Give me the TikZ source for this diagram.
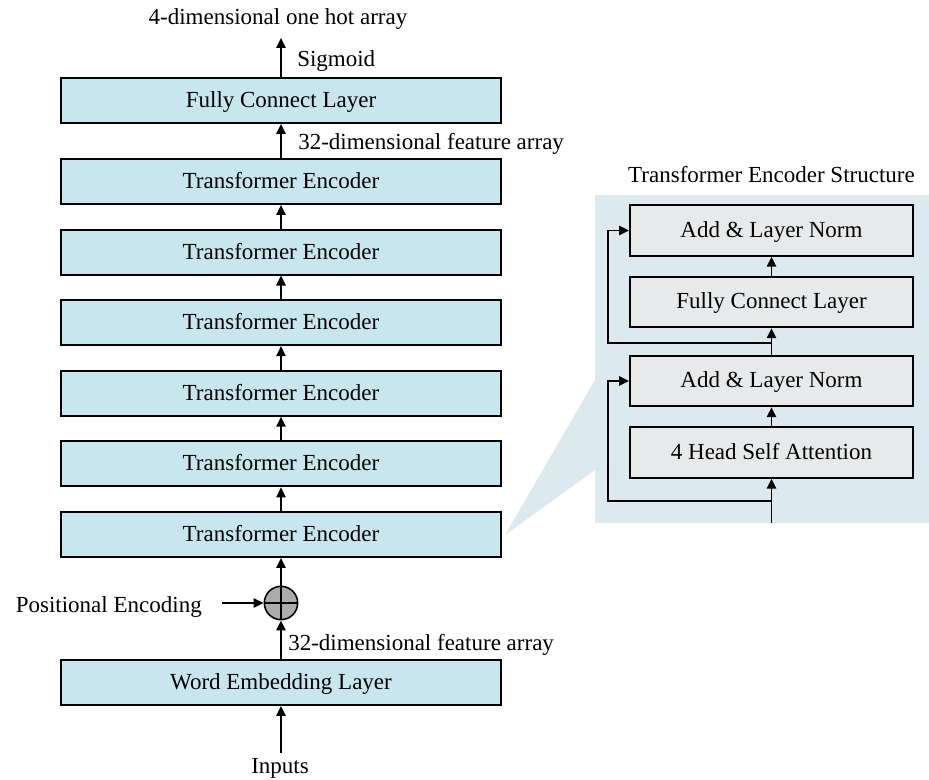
\documentclass[tikz,border=0pt]{standalone}
\usepackage{fontspec}
\setmainfont{Liberation Serif}
\usetikzlibrary{arrows.meta}
\definecolor{layerblue}{RGB}{199,230,237}
\definecolor{panelblue}{RGB}{220,234,239}
\definecolor{subgrey}{RGB}{231,233,234}
\definecolor{sumgrey}{RGB}{172,172,172}
\begin{document}
\begin{tikzpicture}[x=0.75pt,y=-0.75pt,
  font=\fontsize{17.25}{20}\selectfont,
  layer/.style={draw, line width=1.4pt, fill=layerblue, minimum width=330pt,
    minimum height=33.75pt, inner sep=0pt, text height=1.25em, text depth=0.2em},
  sublayer/.style={draw, line width=1.4pt, fill=subgrey, minimum width=212.25pt,
    minimum height=37.9pt, inner sep=0pt, text height=1.25em, text depth=0.2em},
  flow/.style={line width=1.2pt, -{Triangle[length=7.5pt,width=7pt]}},
  lblw/.style={inner sep=0pt, anchor=base west},
  lblc/.style={inner sep=0pt, anchor=base},
  lble/.style={inner sep=0pt, anchor=base east}]
\useasboundingbox (0,0) rectangle (929,780);

% zoom panel for the encoder detail
\fill[panelblue] (595,195) rectangle (929,523);
\fill[panelblue] (505,535) -- (595,380) -- (595,470) -- cycle;

% main stack
\node[layer] (fc)  at (281,100.5) {Fully Connect Layer};
\node[layer] (te1) at (281,181.5) {Transformer Encoder};
\node[layer] (te2) at (281,252.1) {Transformer Encoder};
\node[layer] (te3) at (281,322.7) {Transformer Encoder};
\node[layer] (te4) at (281,393.3) {Transformer Encoder};
\node[layer] (te5) at (281,463.9) {Transformer Encoder};
\node[layer] (te6) at (281,534.5) {Transformer Encoder};
\node[layer] (we)  at (281,682.5) {Word Embedding Layer};

\node[circle, draw, line width=1.2pt, fill=sumgrey, minimum size=25pt, inner sep=0pt] (sum) at (281,603) {};
\draw[line width=1.2pt] (sum.north) -- (sum.south) (sum.west) -- (sum.east);

% labels of the main stack
\node[lblc] (outlbl) at (278,25) {4-dimensional one hot array};
\node[lblw] (siglbl) at (297,67) {Sigmoid};
\node[lblw] (feat1) at (298,150) {32-dimensional feature array};
\node[lblw] (feat2) at (288,650) {32-dimensional feature array};
\node[lble] (poslbl) at (202,613) {Positional Encoding};
\node[lblc] (inlbl) at (280,773) {Inputs};

\coordinate (outtip) at (281,38);
\coordinate (posstart) at (222,603);
\coordinate (instart) at (281,753);

% main stack connectors
\draw[flow] (fc.north) -- (outtip);
\draw[flow] (te1.north) -- (fc.south);
\draw[flow] (te2.north) -- (te1.south);
\draw[flow] (te3.north) -- (te2.south);
\draw[flow] (te4.north) -- (te3.south);
\draw[flow] (te5.north) -- (te4.south);
\draw[flow] (te6.north) -- (te5.south);
\draw[flow] (sum.north) -- (te6.south);
\draw[flow] (we.north) -- (sum.south);
\draw[flow] (posstart) -- (sum.west);
\draw[flow] (instart) -- (we.south);

% encoder detail
\node[lblc] (title) at (771.5,183) {Transformer Encoder Structure};
\node[sublayer] (add2) at (771.5,230.5) {Add \& Layer Norm};
\node[sublayer] (ffn)  at (771.5,302)   {Fully Connect Layer};
\node[sublayer] (add1) at (771.5,381)   {Add \& Layer Norm};
\node[sublayer] (mha)  at (771.5,452.5) {4 Head Self Attention};

\coordinate (encin) at (771.5,523);
\coordinate (br1) at (771.5,501);
\coordinate (br2) at (771.5,343);

\draw[flow] (encin) -- (mha.south);
\draw[flow] (mha.north) -- (add1.south);
\draw[flow] (add1.north) -- (ffn.south);
\draw[flow] (ffn.north) -- (add2.south);
\draw[flow] (br1) -- ++(-163.5,0) |- (add1.west);
\draw[flow] (br2) -- ++(-163.5,0) |- (add2.west);
\end{tikzpicture}
\end{document}
